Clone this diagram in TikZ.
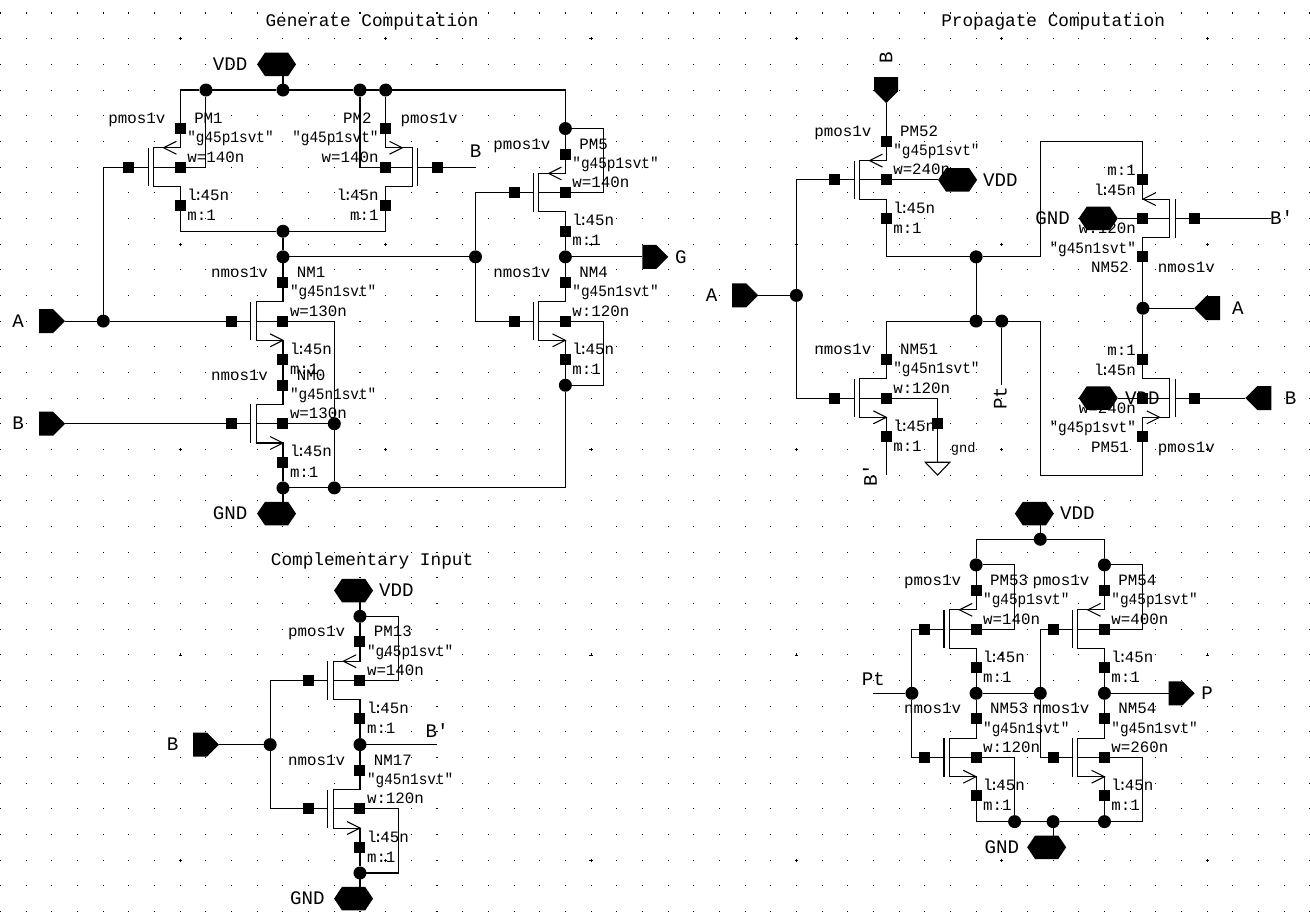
\documentclass[tikz,border=0pt]{standalone}
\usepackage{fontspec}
\usetikzlibrary{shapes.symbols}
\newfontfamily\cadfont{Liberation Mono}
\newfontfamily\cadnarrow[FakeStretch=0.91]{Liberation Mono}

\tikzset{
  wire/.style={line width=0.6pt},
  sqpin/.style={rectangle,fill=black,inner sep=0pt,outer sep=0pt,minimum size=0.22cm},
  jdot/.style={circle,fill=black,inner sep=0pt,outer sep=0pt,minimum size=0.26cm},
  lbl/.style={inner sep=0pt,text height=6pt,text depth=0pt,font=\cadfont\fontsize{9}{9}\selectfont},
  modellbl/.style={inner sep=0pt,text height=6pt,text depth=0pt,font=\cadnarrow\fontsize{9}{9}\selectfont},
  gndlbl/.style={inner sep=0pt,text height=6pt,text depth=0pt,font=\cadfont\fontsize{7.8}{9}\selectfont},
  biglbl/.style={inner sep=0pt,text height=7pt,text depth=0pt,font=\cadfont\fontsize{10.9}{11}\selectfont},
  titlelbl/.style={inner sep=0pt,font=\cadfont\fontsize{10.1}{11}\selectfont},
  hexpin/.style={signal,signal to=west and east,signal pointer angle=112,fill=black,inner sep=0pt,outer sep=0pt,minimum width=0.78cm,minimum height=0.47cm},
  iopin/.style={signal,signal to=#1,fill=black,inner sep=0pt,outer sep=0pt,minimum width=0.52cm,minimum height=0.48cm},
}

% name, x, y, x flip, y flip, p or n, instance, width
\newcommand{\mosdev}[8]{
  \if#6p
    \def\mostype{pmos1v}\def\mosmodel{"g45p1svt"}\def\tipx{-.65}\def\armx{-.15}\def\tipy{-.75}
  \else
    \def\mostype{nmos1v}\def\mosmodel{"g45n1svt"}\def\tipx{0}\def\armx{-.5}\def\tipy{.75}
  \fi
  \ifnum#4>0 \def\nearanch{west}\def\faranch{east}\else \def\nearanch{east}\def\faranch{west}\fi
  \begin{scope}[shift={(#2,#3)},xscale=#4,yscale=#5]
    \node[sqpin] (#1b) at (0,0) {};
    \node[sqpin] (#1g) at (-2,0) {};
    \node[sqpin] (#1d) at (0,-1.5) {};
    \node[sqpin] (#1s) at (0,1.5) {};
    \draw[wire] (#1g) -- (-1.25,0);
    \draw[wire] (-1.25,-.75) -- (-1.25,.75);
    \draw[wire] (-1.04,0) -- (#1b);
    \draw[wire] (#1d) -- (0,-.75) -- (-1.04,-.75) -- (-1.04,.75) -- (0,.75) -- (#1s);
    \draw[wire] (\armx,\tipy-.25) -- (\tipx,\tipy) -- (\armx,\tipy+.25);
    \node[lbl,anchor=\faranch] (#1type) at (-.57,-1.9) {\mostype};
    \node[lbl,anchor=\nearanch] (#1inst) at (.53,-1.9) {#7};
    \node[modellbl,anchor=\nearanch] (#1model) at (.26,-1.15) {\mosmodel};
    \node[lbl,anchor=\nearanch] (#1w) at (.26,-.4) {#8};
    \node[lbl,anchor=\nearanch] (#1l) at (.26,1.09) {l\kern-1.8pt:\kern-1.4pt 45n};
    \node[lbl,anchor=\nearanch] (#1m) at (.26,1.87) {m:1};
  \end{scope}
}

\begin{document}
\begin{tikzpicture}[x=0.5134cm,y=-0.5134cm]

    \useasboundingbox (-0.0234,-0.5064) rectangle (51.008,35.488);

    % grid
    \foreach \i in {0,...,51} {
      \foreach \j in {0,...,35} {
        \fill (\i-.02,\j-.02) rectangle (\i+.02,\j+.02);
      }
    }
    \foreach \i in {7,15,...,47} {
      \foreach \j in {1,9,17,25,33} {
        \draw[line width=0.3pt] (\i-.06,\j) -- (\i+.06,\j) (\i,\j-.06) -- (\i,\j+.06);
      }
    }

    % generate computation
    \node[titlelbl] (gtitle) at (14.47,0.33) {Generate Computation};
    \mosdev{pm1}{7}{6}{1}{1}{p}{PM1}{w=140n}
    \mosdev{pm2}{15}{6}{-1}{1}{p}{PM2}{w=140n}
    \mosdev{pm5}{22}{7}{1}{1}{p}{PM5}{w=140n}
    \mosdev{nm1}{11}{12}{1}{1}{n}{NM1}{w=130n}
    \mosdev{nm0}{11}{16}{1}{1}{n}{NM0}{w=130n}
    \mosdev{nm4}{22}{12}{1}{1}{n}{NM4}{w:120n}

    \node[jdot] (gj1) at (8,3) {};
    \node[jdot] (gj2) at (11,3) {};
    \node[jdot] (gj3) at (14,3) {};
    \node[jdot] (gj4) at (15,3) {};
    \node[jdot] (gj5) at (22,4.5) {};
    \node[jdot] (gj6) at (11,8.5) {};
    \node[jdot] (gj7) at (11,9.5) {};
    \node[jdot] (gj8) at (18.5,9.5) {};
    \node[jdot] (gj9) at (22,9.5) {};
    \node[jdot] (gj10) at (11,18.5) {};
    \node[jdot] (gj11) at (13,18.5) {};
    \node[jdot] (gj12) at (22,14.5) {};
    \node[jdot] (gj13) at (13,16) {};
    \node[jdot] (gj14) at (4,12) {};

    \node[hexpin] (gvdd) at (10.75,2) {};
    \node[biglbl] (gvddl) at (8.94,2) {VDD};
    \node[hexpin] (ggnd) at (10.75,19.5) {};
    \node[biglbl] (ggndl) at (8.94,19.5) {GND};
    \node[iopin=east] (ga) at (1.77,12) {};
    \node[biglbl] (gal) at (0.68,12) {A};
    \node[iopin=east] (gb) at (1.77,16) {};
    \node[biglbl] (gbl) at (0.68,16) {B};
    \node[iopin=east] (gout) at (25.27,9.5) {};
    \node[biglbl] (goutl) at (26.5,9.5) {G};
    \coordinate (gbw) at (18.5,6);
    \node[biglbl] (gbwl) at (18.5,5.4) {B};
    \coordinate (gc1) at (23.5,7);
    \coordinate (gc2) at (23.5,12);

    \draw[wire] (pm1d) |- (gj1);
    \draw[wire] (gj1) -- (gj2) -- (gj3) -- (gj4);
    \draw[wire] (gj1) |- (pm1b);
    \draw[wire] (gj3) |- (pm2b);
    \draw[wire] (gj4) -- (pm2d);
    \draw[wire] (gj4) -| (gj5);
    \draw[wire] (gj5) -- (pm5d);
    \draw[wire] (gj5) -| (gc1) -- (pm5b);
    \draw[wire] (gj2) -- (gj2 |- gvdd.south);
    \draw[wire] (pm1s) |- (gj6);
    \draw[wire] (pm2s) |- (gj6);
    \draw[wire] (gj6) -- (gj7);
    \draw[wire] (gj7) -- (gj8);
    \draw[wire] (gj8) |- (pm5g);
    \draw[wire] (gj8) |- (nm4g);
    \draw[wire] (pm5s) -- (gj9);
    \draw[wire] (gj9) -- (nm4d);
    \draw[wire] (gj9) -- (gout);
    \draw[wire] (gj7) -- (nm1d);
    \draw[wire] (nm1s) -- (nm0d);
    \draw[wire] (nm0s) -- (gj10);
    \draw[wire] (gj10) -- (gj11);
    \draw[wire] (gj11) -| (gj12);
    \draw[wire] (gj12) -- (nm4s);
    \draw[wire] (nm4b) -- (gc2) |- (gj12);
    \draw[wire] (nm1b) -| (gj13);
    \draw[wire] (nm0b) -- (gj13);
    \draw[wire] (gj13) -- (gj11);
    \draw[wire] (ga) -- (gj14);
    \draw[wire] (gj14) -- (nm1g);
    \draw[wire] (gj14) |- (pm1g);
    \draw[wire] (gb) -- (nm0g);
    \draw[wire] (pm2g) -- (gbw);
    \draw[wire] (gj10) -- (gj10 |- ggnd.north);

    % propagate computation
    \node[titlelbl] (ptitle) at (41,0.33) {Propagate Computation};
    \mosdev{pm52}{34.5}{6.5}{1}{1}{p}{PM52}{w=240n}
    \mosdev{nm51}{34.5}{15}{1}{1}{n}{NM51}{w:120n}
    \mosdev{nm52}{44.5}{8}{-1}{-1}{n}{NM52}{w:120n}
    \mosdev{pm51}{44.5}{15}{-1}{-1}{p}{PM51}{w=240n}

    \node[jdot] (pj1) at (31,11) {};
    \node[jdot] (pj2) at (38,9.5) {};
    \node[jdot] (pj3) at (38,12) {};
    \node[jdot] (pj4) at (44.5,11.5) {};
    \node[jdot] (pj5) at (39,12) {};
    \node[sqpin] (psq) at (36.5,16) {};

    \node[iopin=east,rotate=-90] (pb) at (34.5,2.77) {};
    \node[biglbl,rotate=90] (pbl) at (34.5,1.76) {B};
    \node[iopin=east] (pa) at (28.77,11) {};
    \node[biglbl] (pal) at (27.7,11) {A};
    \node[iopin=west] (pa2) at (47.23,11.5) {};
    \node[biglbl] (pa2l) at (48.2,11.5) {A};
    \node[iopin=west] (pb2) at (49.23,15) {};
    \node[biglbl] (pb2l) at (50.25,15) {B};
    \node[hexpin] (pvdd1) at (37.28,6.5) {};
    \node[biglbl] (pvdd1l) at (38.95,6.5) {VDD};
    \node[hexpin] (pgnd1) at (42.76,8) {};
    \node[biglbl] (pgnd1l) at (40.98,8) {GND};
    \node[hexpin] (pvdd2) at (42.76,15) {};
    \node[biglbl] (pvdd2l) at (44.48,15) {VDD};
    \coordinate (pc1) at (40.5,5);
    \coordinate (pc2) at (40.5,18);
    \coordinate (pt1) at (39,14.5);
    \node[biglbl,rotate=90] (pt1l) at (38.95,15) {Pt};
    \coordinate (pbp) at (34.5,18);
    \node[biglbl,rotate=90] (pbpl) at (33.9,18) {B'};
    \coordinate (pbq) at (49.5,8);
    \node[biglbl] (pbql) at (49.9,8) {B'};
    \coordinate (pgnd) at (36.5,17.5);
    \node[gndlbl] (pgndl) at (37.5,16.9) {gnd};

    \draw[wire] (pb) -- (pm52d);
    \draw[wire] (pa) -- (pj1);
    \draw[wire] (pj1) |- (pm52g);
    \draw[wire] (pj1) |- (nm51g);
    \draw[wire] (pm52b) -- (pvdd1);
    \draw[wire] (pm52s) |- (pj2);
    \draw[wire] (pj2) -- (pj3);
    \draw[wire] (pj2) -| (pc1) -| (nm52s);
    \draw[wire] (nm52d) -- (pj4);
    \draw[wire] (pj4) -- (pm51s);
    \draw[wire] (pj4) -- (pa2);
    \draw[wire] (pm51d) |- (pc2) |- (pj5);
    \draw[wire] (pj5) -- (pj3);
    \draw[wire] (pj3) -| (nm51d);
    \draw[wire] (pj5) -- (pt1);
    \draw[wire] (nm51s) -- (pbp);
    \draw[wire] (nm51b) -| (psq);
    \draw[wire] (psq) -- (pgnd);
    \draw[wire] (pgnd) ++(-.48,0) -- ++(.96,0) -- ++(-.48,.5) -- cycle;
    \draw[wire] (nm52g) -- (pbq);
    \draw[wire] (pm51g) -- (pb2);
    \draw[wire] (pgnd1) -- (nm52b);
    \draw[wire] (pvdd2) -- (pm51b);

    % complementary input
    \node[titlelbl] (ctitle) at (14.47,21.33) {Complementary Input};
    \mosdev{pm13}{14}{26}{1}{1}{p}{PM13}{w=140n}
    \mosdev{nm17}{14}{31}{1}{1}{n}{NM17}{w:120n}

    \node[jdot] (cj1) at (14,23.5) {};
    \node[jdot] (cj2) at (14,28.5) {};
    \node[jdot] (cj3) at (10.5,28.5) {};
    \node[jdot] (cj4) at (14,33.5) {};

    \node[hexpin] (cvdd) at (13.75,22.5) {};
    \node[biglbl] (cvddl) at (15.42,22.5) {VDD};
    \node[hexpin] (cgnd) at (13.75,34.5) {};
    \node[biglbl] (cgndl) at (11.95,34.5) {GND};
    \node[iopin=east] (cb) at (7.77,28.5) {};
    \node[biglbl] (cbl) at (6.7,28.5) {B};
    \coordinate (cout) at (17,28.5);
    \node[biglbl] (coutl) at (17,27.98) {B'};
    \coordinate (cc1) at (15.5,26);
    \coordinate (cc2) at (15.5,31);

    \draw[wire] (cj1) -- (cj1 |- cvdd.south);
    \draw[wire] (cj1) -- (pm13d);
    \draw[wire] (pm13b) -- (cc1) |- (cj1);
    \draw[wire] (pm13s) -- (cj2);
    \draw[wire] (cj2) -- (nm17d);
    \draw[wire] (cj2) -- (cout);
    \draw[wire] (cb) -- (cj3);
    \draw[wire] (cj3) |- (pm13g);
    \draw[wire] (cj3) |- (nm17g);
    \draw[wire] (nm17s) -- (cj4);
    \draw[wire] (nm17b) -- (cc2) |- (cj4);
    \draw[wire] (cj4) -- (cj4 |- cgnd.north);

    % xor stage
    \mosdev{pm53}{38}{24}{1}{1}{p}{PM53}{w=140n}
    \mosdev{pm54}{43}{24}{1}{1}{p}{PM54}{w=400n}
    \mosdev{nm53}{38}{29}{1}{1}{n}{NM53}{w:120n}
    \mosdev{nm54}{43}{29}{1}{1}{n}{NM54}{w=260n}

    \node[jdot] (xj1) at (40.5,20.5) {};
    \node[jdot] (xj2) at (38,21.5) {};
    \node[jdot] (xj3) at (43,21.5) {};
    \node[jdot] (xj4) at (35.5,26.5) {};
    \node[jdot] (xj5) at (38,26.5) {};
    \node[jdot] (xj6) at (40.5,26.5) {};
    \node[jdot] (xj7) at (43,26.5) {};
    \node[jdot] (xj8) at (39.5,31.5) {};
    \node[jdot] (xj9) at (41,31.5) {};
    \node[jdot] (xj10) at (43,31.5) {};

    \node[hexpin] (xvdd) at (40.27,19.5) {};
    \node[biglbl] (xvddl) at (41.95,19.5) {VDD};
    \node[hexpin] (xgnd) at (40.75,32.5) {};
    \node[biglbl] (xgndl) at (39,32.5) {GND};
    \node[iopin=east] (xp) at (45.77,26.5) {};
    \node[biglbl] (xpl) at (47,26.5) {P};
    \coordinate (xpt) at (34,26.5);
    \node[biglbl] (xptl) at (34,25.95) {Pt};
    \coordinate (xc1) at (39.5,24);
    \coordinate (xc2) at (44.5,24);
    \coordinate (xc3) at (44.5,29);

    \draw[wire] (xj1) -- (xj1 |- xvdd.south);
    \draw[wire] (xj2) |- (xj1);
    \draw[wire] (xj3) |- (xj1);
    \draw[wire] (xj2) -- (pm53d);
    \draw[wire] (xj3) -- (pm54d);
    \draw[wire] (pm53b) -- (xc1) |- (xj2);
    \draw[wire] (pm54b) -- (xc2) |- (xj3);
    \draw[wire] (xpt) -- (xj4);
    \draw[wire] (xj4) |- (pm53g);
    \draw[wire] (xj4) |- (nm53g);
    \draw[wire] (pm53s) -- (xj5);
    \draw[wire] (xj5) -- (nm53d);
    \draw[wire] (xj5) -- (xj6);
    \draw[wire] (xj6) |- (pm54g);
    \draw[wire] (xj6) |- (nm54g);
    \draw[wire] (pm54s) -- (xj7);
    \draw[wire] (xj7) -- (nm54d);
    \draw[wire] (xj7) -- (xp);
    \draw[wire] (nm53s) |- (xj8);
    \draw[wire] (nm53b) -| (xj8);
    \draw[wire] (xj8) -- (xj9) -- (xj10);
    \draw[wire] (nm54s) -- (xj10);
    \draw[wire] (nm54b) -- (xc3) |- (xj10);
    \draw[wire] (xj9) -- (xj9 |- xgnd.north);

\end{tikzpicture}
\end{document}
